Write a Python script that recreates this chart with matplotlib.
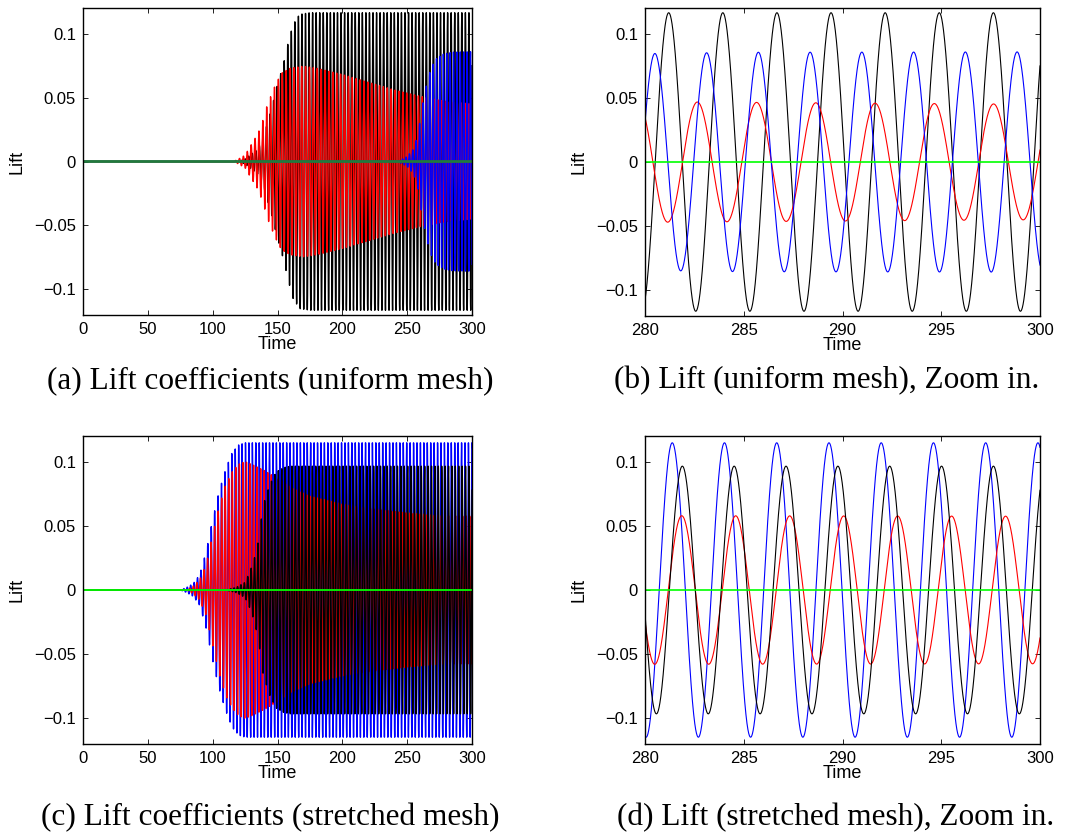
import numpy as np
import matplotlib
matplotlib.use('Agg')
import matplotlib.pyplot as plt

# ---- values ------------------------------------------------------------
# each signal: growth envelope (time, amplitude), oscillation period, time of one peak

# (a)/(b) uniform mesh
ua_black_t = [0, 120, 125, 135, 140, 145, 150, 155, 158, 162, 167, 175, 300]
ua_black_a = [0, 0, 0.002, 0.01, 0.022, 0.04, 0.06, 0.078, 0.092, 0.107, 0.115, 0.1163, 0.1163]
ua_red_t = [0, 116, 120, 125, 129, 135, 139, 142, 148, 153, 160, 170, 180, 200, 220, 240, 260, 280, 300]
ua_red_a = [0, 0, 0.002, 0.005, 0.012, 0.022, 0.033, 0.044, 0.059, 0.069, 0.073, 0.0745, 0.073,
            0.068, 0.062, 0.056, 0.051, 0.047, 0.045]
ua_blue_t = [0, 243, 250, 255, 258, 262, 265, 268, 272, 278, 285, 300]
ua_blue_a = [0, 0, 0.004, 0.01, 0.02, 0.045, 0.06, 0.072, 0.08, 0.084, 0.0855, 0.0858]
ua_period = {'black': 2.74, 'red': 3.0, 'blue': 2.62}
ua_peak = {'black': 281.2, 'red': 282.65, 'blue': 280.5}

# (c)/(d) stretched mesh
st_black_t = [0, 110, 118, 125, 129, 132, 135, 139, 144, 149, 155, 160, 300]
st_black_a = [0, 0, 0.002, 0.006, 0.015, 0.024, 0.037, 0.066, 0.082, 0.092, 0.0955, 0.0965, 0.0965]
st_red_t = [0, 80, 85, 90, 95, 100, 105, 110, 115, 120, 125, 130, 140, 150, 160, 175, 200, 225, 250, 275, 300]
st_red_a = [0, 0, 0.003, 0.008, 0.02, 0.043, 0.065, 0.082, 0.092, 0.098, 0.1, 0.098, 0.093,
            0.087, 0.08, 0.073, 0.067, 0.063, 0.06, 0.058, 0.0575]
st_blue_t = [0, 75, 80, 85, 90, 95, 98, 100, 105, 110, 115, 120, 125, 300]
st_blue_a = [0, 0, 0.002, 0.005, 0.012, 0.03, 0.045, 0.055, 0.077, 0.094, 0.107, 0.113, 0.1147, 0.1147]
st_period = {'black': 2.625, 'red': 2.733, 'blue': 2.645}
st_peak = {'black': 281.89, 'red': 281.86, 'blue': 281.38}

yticks = [-0.1, -0.05, 0, 0.05, 0.1]
yticklabels = ['\u22120.1', '\u22120.05', '0', '0.05', '0.1']
captions = ['(a) Lift coefficients (uniform mesh)', '(b) Lift (uniform mesh), Zoom in.',
            '(c) Lift coefficients (stretched mesh)', '(d) Lift (stretched mesh), Zoom in.']

plt.rcParams['font.family'] = ['Liberation Sans', 'DejaVu Sans']

COLORS = {'black': 'k', 'red': '#ff0000', 'blue': '#0000ff'}


def signal(t, et, ea, period, peak):
    return np.interp(t, et, ea) * np.cos(2 * np.pi * (t - peak) / period)


def panel(ax, t, env, period, peak, order, green, lw, glw, xlim, xticks):
    for c in order:
        et, ea = env[c]
        ax.plot(t, signal(t, et, ea, period[c], peak[c]), color=COLORS[c], lw=lw)
    ax.plot(t, np.zeros_like(t), color=green, lw=glw)
    ax.set_xlim(*xlim)
    ax.set_ylim(-0.12, 0.12)
    ax.set_xticks(xticks)
    ax.set_yticks(yticks)
    ax.set_yticklabels(yticklabels)
    ax.tick_params(direction='in', length=3.5, width=0.6, top=True, right=True,
                   labelsize=12, pad=5)
    for s in ax.spines.values():
        s.set_linewidth(1.0)
    ax.set_xlabel('Time', fontsize=13, labelpad=-1)
    ax.set_ylabel('Lift', fontsize=13, labelpad=6)


fig = plt.figure(figsize=(10.71, 8.34), dpi=100)
W, H = 1071.0, 834.0
boxes = [(83, 8, 472, 315), (645, 8, 1040, 316), (83, 436, 472, 744), (645, 436, 1040, 744)]
axs = [fig.add_axes([l / W, 1 - b / H, (r - l) / W, (b - t) / H]) for l, t, r, b in boxes]

t_full = np.arange(0, 300.001, 0.02)
t_zoom = np.arange(280, 300.001, 0.005)

ua_env = {'black': (ua_black_t, ua_black_a), 'red': (ua_red_t, ua_red_a), 'blue': (ua_blue_t, ua_blue_a)}
st_env = {'black': (st_black_t, st_black_a), 'red': (st_red_t, st_red_a), 'blue': (st_blue_t, st_blue_a)}

panel(axs[0], t_full, ua_env, ua_period, ua_peak, ['black', 'red', 'blue'], '#217a3c', 1.0, 2.0,
      (0, 300), range(0, 301, 50))
panel(axs[1], t_zoom, ua_env, ua_period, ua_peak, ['black', 'red', 'blue'], '#00ff00', 0.8, 1.2,
      (280, 300), range(280, 301, 5))
panel(axs[2], t_full, st_env, st_period, st_peak, ['blue', 'red', 'black'], '#00ff00', 1.0, 1.3,
      (0, 300), range(0, 301, 50))
panel(axs[3], t_zoom, st_env, st_period, st_peak, ['blue', 'red', 'black'], '#00ff00', 0.8, 1.2,
      (280, 300), range(280, 301, 5))

cap_pos = [(270, 381), (827, 381), (270, 818), (836, 818)]
for (x, y), txt in zip(cap_pos, captions):
    fig.text(x / W, 1 - y / H, txt, ha='center', va='center', fontsize=22.5,
             family=['Liberation Serif', 'DejaVu Serif'])

fig.savefig('out.png', dpi=100)
